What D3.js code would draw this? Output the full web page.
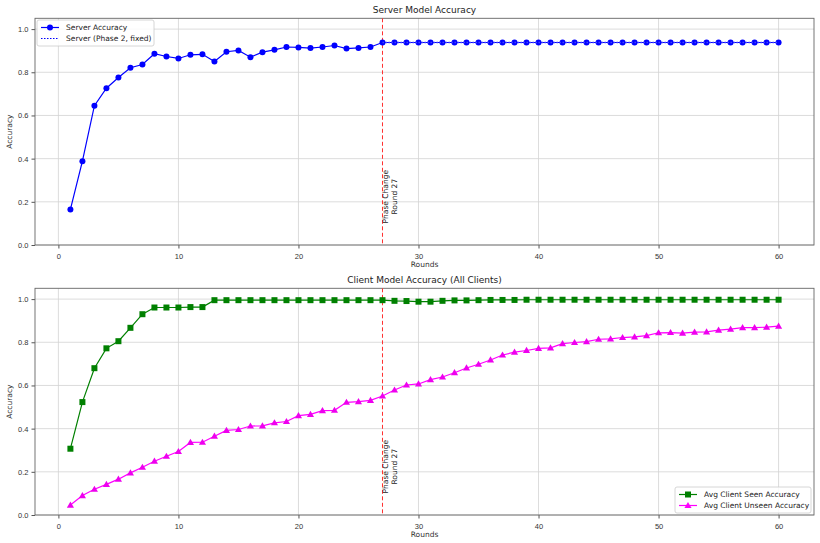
<!DOCTYPE html>
<html>
<head>
<meta charset="utf-8">
<script src="https://cdn.jsdelivr.net/npm/d3@7"></script>
<style>
  body { margin: 0; background: #fff; }
  svg { font-family: "DejaVu Sans", sans-serif; }
</style>
</head>
<body>
<svg id="chart" width="820" height="543"></svg>
<script>
// rounds 1..60
var rounds = d3.range(1, 61);

// server model accuracy
var serverAcc = [0.165, 0.388, 0.645, 0.726, 0.776, 0.821, 0.836, 0.886, 0.873, 0.864,
    0.881, 0.883, 0.850, 0.895, 0.901, 0.870, 0.893, 0.904, 0.917, 0.915,
    0.912, 0.917, 0.924, 0.910, 0.913, 0.917, 0.938, 0.938, 0.938, 0.938,
    0.938, 0.938, 0.938, 0.938, 0.938, 0.938, 0.938, 0.938, 0.938, 0.938,
    0.938, 0.938, 0.938, 0.938, 0.938, 0.938, 0.938, 0.938, 0.938, 0.938,
    0.938, 0.938, 0.938, 0.938, 0.938, 0.938, 0.938, 0.938, 0.938, 0.938];

// client seen / unseen, bottom panel
var seenAcc = [0.307, 0.523, 0.680, 0.772, 0.805, 0.867, 0.930, 0.961, 0.961, 0.961,
    0.963, 0.963, 0.995, 0.995, 0.995, 0.995, 0.995, 0.995, 0.995, 0.995,
    0.995, 0.995, 0.995, 0.995, 0.995, 0.995, 0.995, 0.992, 0.991, 0.988,
    0.988, 0.992, 0.994, 0.994, 0.995, 0.996, 0.996, 0.996, 0.997, 0.997,
    0.997, 0.997, 0.997, 0.997, 0.997, 0.997, 0.997, 0.997, 0.997, 0.997,
    0.997, 0.997, 0.997, 0.997, 0.997, 0.997, 0.997, 0.997, 0.997, 0.997];

var unseenAcc = [0.046, 0.090, 0.119, 0.142, 0.166, 0.195, 0.221, 0.249, 0.272, 0.294,
    0.336, 0.337, 0.365, 0.392, 0.396, 0.412, 0.413, 0.427, 0.433, 0.460,
    0.466, 0.483, 0.485, 0.522, 0.525, 0.531, 0.551, 0.579, 0.602, 0.607,
    0.627, 0.639, 0.659, 0.681, 0.698, 0.718, 0.741, 0.754, 0.762, 0.772,
    0.774, 0.794, 0.799, 0.803, 0.814, 0.816, 0.822, 0.825, 0.831, 0.844,
    0.845, 0.842, 0.847, 0.848, 0.856, 0.861, 0.868, 0.868, 0.870, 0.875];

var phaseRound = 27;
var xTicks = [0, 10, 20, 30, 40, 50, 60];
var yTicks = [0.0, 0.2, 0.4, 0.6, 0.8, 1.0];

var svg = d3.select("#chart");
var left = 35, right = 814;

var x = d3.scaleLinear().domain([-1.95, 62.95]).range([left, right]);

function panel(top, bottom, title) {
    var y = d3.scaleLinear().domain([0, 1.05]).range([bottom, top]);
    var g = svg.append("g");

    // grid
    g.selectAll(".gx").data(xTicks).enter().append("line")
        .attr("x1", d => x(d)).attr("x2", d => x(d))
        .attr("y1", top).attr("y2", bottom)
        .attr("stroke", "#d3d3d3").attr("stroke-width", 0.8);
    g.selectAll(".gy").data(yTicks).enter().append("line")
        .attr("x1", left).attr("x2", right)
        .attr("y1", d => y(d)).attr("y2", d => y(d))
        .attr("stroke", "#d3d3d3").attr("stroke-width", 0.8);

    var xAxis = g.append("g").attr("transform", "translate(0," + bottom + ")")
        .call(d3.axisBottom(x).tickValues(xTicks).tickFormat(d3.format("d")).tickSize(3.5).tickSizeOuter(0));
    var yAxis = g.append("g").attr("transform", "translate(" + left + ",0)")
        .call(d3.axisLeft(y).tickValues(yTicks).tickFormat(d3.format(".1f")).tickSize(3.5).tickSizeOuter(0));
    [xAxis, yAxis].forEach(function (a) {
        a.select(".domain").remove();
        a.selectAll("line").attr("stroke", "#555");
        a.selectAll("text").attr("fill", "#333").style("font-size", "7.5px");
    });
    xAxis.selectAll("text").attr("dy", "0.95em");

    // frame
    g.append("rect").attr("x", left).attr("y", top)
        .attr("width", right - left).attr("height", bottom - top)
        .attr("fill", "none").attr("stroke", "#666").attr("stroke-width", 0.9);

    g.append("text").attr("x", (left + right) / 2).attr("y", top - 5)
        .attr("text-anchor", "middle").attr("fill", "#222")
        .style("font-size", "9px").text(title);
    g.append("text").attr("x", (left + right) / 2).attr("y", bottom + 22)
        .attr("text-anchor", "middle").attr("fill", "#333")
        .style("font-size", "7.5px").text("Rounds");
    g.append("text")
        .attr("transform", "translate(12," + (top + bottom) / 2 + ") rotate(-90)")
        .attr("text-anchor", "middle").attr("fill", "#333")
        .style("font-size", "7.5px").text("Accuracy");

    // phase change marker
    g.append("line")
        .attr("x1", x(phaseRound)).attr("x2", x(phaseRound))
        .attr("y1", top).attr("y2", bottom)
        .attr("stroke", "#ff3030").attr("stroke-width", 1).attr("stroke-dasharray", "4,2.5");
    var lbl = g.append("text")
        .attr("transform", "translate(" + (x(phaseRound) + 5.5) + "," + y(0.1) + ") rotate(-90)")
        .attr("fill", "#222").style("font-size", "7.5px");
    lbl.append("tspan").attr("x", 0).attr("dy", 0).text("Phase Change");
    lbl.append("tspan").attr("x", 0).attr("dy", "1.15em").attr("dx", 0).text("Round 27");
    // second line is centred under the first
    var w1 = lbl.select("tspan").node().getComputedTextLength();
    var t2 = d3.select(lbl.selectAll("tspan").nodes()[1]);
    t2.attr("x", (w1 - t2.node().getComputedTextLength()) / 2);

    return { g: g, y: y };
}

var p1 = panel(18.3, 245, "Server Model Accuracy");
var p2 = panel(288.3, 515, "Client Model Accuracy (All Clients)");

function series(p, vals, color) {
    var line = d3.line().x((d, i) => x(rounds[i])).y(d => p.y(d));
    p.g.append("path").datum(vals).attr("d", line)
        .attr("fill", "none").attr("stroke", color).attr("stroke-width", 1.2);
}

// server
series(p1, serverAcc, "#0000ff");
p1.g.selectAll(".srv").data(serverAcc).enter().append("circle")
    .attr("cx", (d, i) => x(rounds[i])).attr("cy", d => p1.y(d))
    .attr("r", 3).attr("fill", "#0000ff");
// phase 2 fixed server, dotted
var fixed = rounds.filter(r => r >= phaseRound);
p1.g.append("path").datum(fixed)
    .attr("d", d3.line().x(r => x(r)).y(r => p1.y(serverAcc[r - 1])))
    .attr("fill", "none").attr("stroke", "#4040ff").attr("stroke-width", 1.6)
    .attr("stroke-dasharray", "1.5,1.5");

// clients
series(p2, seenAcc, "#008000");
p2.g.selectAll(".seen").data(seenAcc).enter().append("rect")
    .attr("x", (d, i) => x(rounds[i]) - 3).attr("y", d => p2.y(d) - 3)
    .attr("width", 6).attr("height", 6).attr("fill", "#008000");
series(p2, unseenAcc, "#ff00ff");
var tri = d3.symbol().type(d3.symbolTriangle).size(22);
p2.g.selectAll(".unseen").data(unseenAcc).enter().append("path")
    .attr("d", tri)
    .attr("transform", (d, i) => "translate(" + x(rounds[i]) + "," + (p2.y(d) + 0.5) + ")")
    .attr("fill", "#ee00ee");

// legends
function legend(lx, ly, w, items) {
    var lg = svg.append("g").attr("transform", "translate(" + lx + "," + ly + ")");
    lg.append("rect").attr("width", w).attr("height", items.length * 11 + 4)
        .attr("rx", 2).attr("fill", "#fff").attr("fill-opacity", 0.85)
        .attr("stroke", "#ccc").attr("stroke-width", 0.8);
    items.forEach(function (it, i) {
        var cy = 7.5 + i * 11;
        lg.append("line").attr("x1", 4).attr("x2", 22).attr("y1", cy).attr("y2", cy)
            .attr("stroke", it.color).attr("stroke-width", it.dash ? 1.2 : 1.2)
            .attr("stroke-dasharray", it.dash || null);
        if (it.marker === "circle") lg.append("circle").attr("cx", 13).attr("cy", cy).attr("r", 3).attr("fill", it.color);
        if (it.marker === "square") lg.append("rect").attr("x", 10).attr("y", cy - 3).attr("width", 6).attr("height", 6).attr("fill", it.color);
        if (it.marker === "triangle") lg.append("path").attr("d", tri).attr("transform", "translate(13," + (cy + 0.5) + ")").attr("fill", it.color);
        lg.append("text").attr("x", 29).attr("y", cy).attr("dy", "0.35em")
            .attr("fill", "#222").style("font-size", "7.5px").text(it.label);
    });
}

legend(37, 20, 117, [
    { label: "Server Accuracy", color: "#0000ff", marker: "circle" },
    { label: "Server (Phase 2, fixed)", color: "#0000ff", dash: "1.5,1.5" }
]);
legend(675, 487, 136, [
    { label: "Avg Client Seen Accuracy", color: "#008000", marker: "square" },
    { label: "Avg Client Unseen Accuracy", color: "#ff00ff", marker: "triangle" }
]);
</script>
</body>
</html>
